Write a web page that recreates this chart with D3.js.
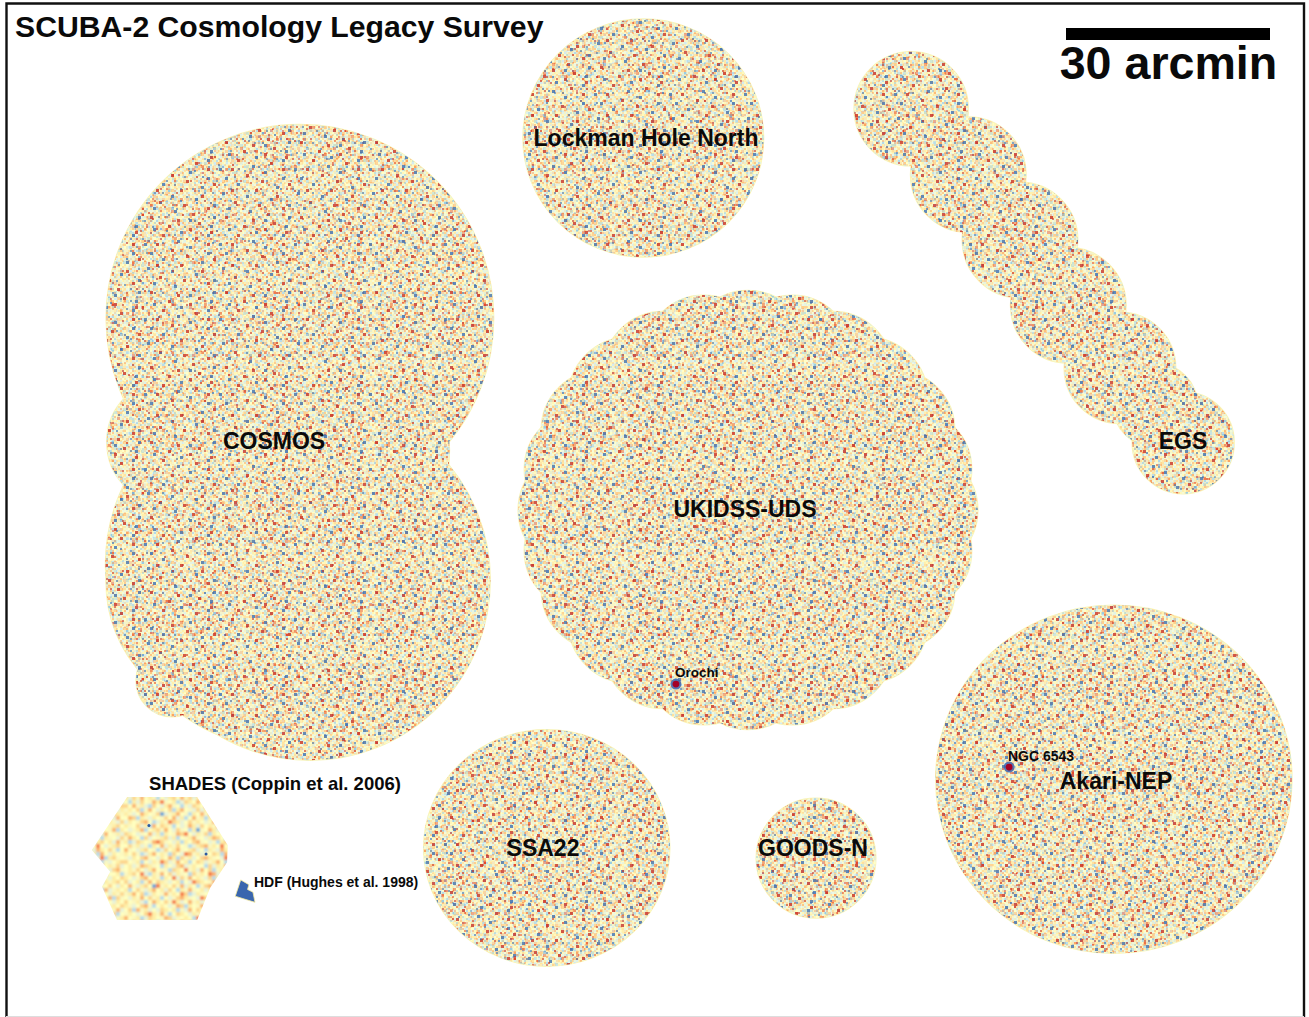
<!DOCTYPE html>
<html><head><meta charset="utf-8">
<script src="https://cdn.jsdelivr.net/npm/d3@7"></script>
<style>html,body{margin:0;padding:0;background:#fff}svg{display:block}text{font-family:"Liberation Sans",Arial,sans-serif;font-weight:700;fill:#0a0a0a}</style>
</head><body><div id="chart"></div>
<script>
// Footprints: [centre x, centre y, radius x, radius y] in arcmin on the map.
const lockman=[[94.6,20.3,17.7,17.5]];
const goodsN=[[120,126.2,8.8,8.8]];
const ssa22=[[80.4,124.7,18.1,17.4]];
const akariNep=[[163.8,114.6,26.2,25.6]];
const cosmos=[[44.1,46.8,28.5,28.5],[42.6,83.1,27.1,27.1],[45.6,85.3,26.5,26.5],[35.3,85.7,19.7,19.7],[25,65,9.3,9.3],[25.3,100.1,5.3,5.3],[44.1,66.2,22,22]];
const egs=[[134,16,8.4,8.4],[142.4,25.7,8.5,8.5],[150,35.3,8.5,8.5],[157.1,44.9,8.5,8.5],[164.7,54.1,8.2,8.2],[169.9,59.6,6.2,6.2],[174,65.1,7.5,7.5]];
const udsCore=[[110,75,25,23.5]];
const udsLobes=[[135,75],[134.1,81],[131.6,86.8],[127.6,91.6],[122.5,95.4],[116.5,97.8],[110,98.5],[103.5,97.8],[97.5,95.4],[92.4,91.6],[88.4,86.8],[85.9,81],[85,75],[85.9,69],[88.4,63.2],[92.4,58.4],[97.5,54.6],[103.5,52.2],[110,51.5],[116.5,52.2],[122.5,54.6],[127.6,58.4],[131.6,63.2],[134.1,69]];
const udsLobeRadius=[8.8];
const shadesOutline=[[18.7,117.2],[29,117.2],[33.5,124.3],[33.4,126.8],[30.9,130.6],[29,135.3],[17.2,135.3],[15,130.4],[16.2,128.2],[13.5,125]];
const shadesSpots=[[30.3,125.6],[21.9,121.4]];
const hdfOutline=[[35.4,129.4],[36.6,130.1],[36.4,130.8],[37.2,131.2],[37.5,132.7],[34.6,131.8]];
const brightSources=[[148.4,112.8],[99.4,100.6]];
const scaleBarArcmin=[30];
// Labels
const titleText=["SCUBA-2 Cosmology Legacy Survey"];
const scaleText=["30 arcmin"];
const fieldLabels=["Lockman Hole North","COSMOS","EGS","UKIDSS-UDS","SSA22","GOODS-N","Akari-NEP","SHADES (Coppin et al. 2006)"];
const smallLabels=["HDF (Hughes et al. 1998)","NGC 6543","Orochi"];
// Hand-typed colour-class tile approximating the map noise (0 red ... 4 pale yellow ... 8 blue)
const noiseRows=[
"4352463145572340536142753346215",
"5324067351426354725340163524437",
"3465214357340625143562734156342",
"2643751423564374602345146735324",
"4156324805342516347521630542463",
"3742563143624735154363425716534",
"5314276345153402763544231646352",
"4635142537465213546027345341725",
"2453674134250364153642517354634",
"3564215743465127345136243805342",
"4271536462343756142453657324516",
"5346420351574234635271345463274",
"1453762345126543470352164534653",
"3625143574632415263547324162345",
"4736245130543762341546235473516",
"2415367246315475623408153645342",
"5342751463427314562635341725463",
"3564134528653145734152463046235",
"4127356345241637415373546523614",
"6345214763502364253465127343562",
"3542637142357465136243516745324",
"4653174325146254738541362345173",
"2346541637345120463527345614536",
"5134726453263745315463124735462",
"3762345102546373421546573243615",
"4253657341635245763215340465324",
"1546324576243154326473561342574",
"3425763143572460153654237146345",
"5634215463413725364213546073254",
"2453746350265143742365314756432",
"4365123547346216534472635143526"];
const speckRows=[
"......0.............8....",
".8...........0...........",
"..........8.........0....",
"....0..............8.....",
"...............0.........",
".........8...............",
"..0................0...8.",
".............8...........",
".......0.................",
"8..................8.....",
"............0............",
"....8................0...",
".................8.......",
"..0.......0..............",
"........................8",
".......8.........0.......",
"...............8.........",
"...0.....................",
"...........0.........8...",
".8.................0.....",
"........8................",
"..............0..........",
"0....................8...",
".........0...8...........",
"................0........"];
const noiseClasses=["0","1","2","3","4","5","6","7","8"];
const noiseColors=["#e2492f","#fba765","#fed492","#fff0ad","#ffffc8","#ecf7e6","#d3ebf0","#9accE3","#5f93c6"];
const paleColors=["#f57d4a","#fbb56f","#fdd68e","#feeea6","#ffffc0","#fbf8c0","#e8f3d8","#b7dcea","#6ba6d6"];
const speckColors=["#c9302a","#3f6fb0"];

const W=1309,H=1017;
const x=d3.scaleLinear().domain([0,192.5]).range([0,W]);
const y=d3.scaleLinear().domain([0,149.56]).range([0,H]);
const noiseColor=d3.scaleOrdinal(noiseClasses,noiseColors);
const paleColor=d3.scaleOrdinal(noiseClasses,paleColors);

const svg=d3.select("#chart").append("svg").attr("width",W).attr("height",H);
const defs=svg.append("defs");
function tile(id,rows,color,size,transform){
  const p=defs.append("pattern").attr("id",id).attr("patternUnits","userSpaceOnUse")
    .attr("width",rows[0].length*size).attr("height",rows.length*size);
  if(transform){p.attr("patternTransform",transform);}
  rows.forEach((r,j)=>{for(let i=0;i<r.length;i++){if(r[i]==="."){continue;}
    p.append("rect").attr("x",i*size).attr("y",j*size).attr("width",size).attr("height",size).attr("fill",color(r[i]));}});
}
const speckColor=d=>d==="0"?speckColors[0]:speckColors[1];
tile("noise",noiseRows,noiseColor,2);
tile("noise2",noiseRows,noiseColor,3,"rotate(90)");
tile("speck",speckRows,speckColor,3);
tile("speck2",speckRows,speckColor,2,"rotate(90)");
tile("pale",noiseRows,paleColor,4);
defs.append("filter").attr("id","soft").append("feGaussianBlur").attr("stdDeviation",0.5);
defs.append("filter").attr("id","soft2").append("feGaussianBlur").attr("stdDeviation",0.7);
defs.append("filter").attr("id","softer").append("feGaussianBlur").attr("stdDeviation",1.3);

const fields=[
  ["cosmos",cosmos],["lockman",lockman],["egs",egs],
  ["uds",udsCore.concat(udsLobes.map(d=>[d[0],d[1],udsLobeRadius[0],udsLobeRadius[0]]))],
  ["akari",akariNep],["ssa22",ssa22],["goods",goodsN]];
const addEllipses=(sel,data)=>sel.selectAll("ellipse").data(data).join("ellipse")
  .attr("cx",d=>x(d[0])).attr("cy",d=>y(d[1])).attr("rx",d=>x(d[2])).attr("ry",d=>x(d[3]));
fields.forEach(([id,parts])=>{
  addEllipses(defs.append("clipPath").attr("id","clip-"+id),parts);
  addEllipses(svg.append("g").attr("fill","#f8f4b8").attr("stroke","#f8f4b8").attr("stroke-width",1.4),parts);
  const g=svg.append("g").attr("clip-path",`url(#clip-${id})`);
  const layer=(fill,op,f)=>g.append("rect").attr("width",W).attr("height",H).attr("fill",`url(#${fill})`).attr("filter",`url(#${f})`).attr("opacity",op);
  layer("noise",1,"soft");layer("noise2",0.45,"soft");layer("speck",0.8,"soft2");layer("speck2",0.6,"soft2");
});
// SHADES and HDF
const poly=d=>d.map(p=>[x(p[0]),y(p[1])].join(",")).join(" ");
defs.append("clipPath").attr("id","clip-shades").append("polygon").attr("points",poly(shadesOutline));
const sg=svg.append("g").attr("clip-path","url(#clip-shades)");
sg.append("rect").attr("width",W).attr("height",H).attr("fill","url(#pale)").attr("filter","url(#softer)");
sg.selectAll("circle").data(shadesSpots).join("circle").attr("cx",d=>x(d[0])).attr("cy",d=>y(d[1])).attr("r",1.5).attr("fill","#2c5aa0");
svg.append("polygon").attr("points",poly(hdfOutline)).attr("fill","#3a66ae").attr("stroke","#f3e9a0").attr("stroke-width",0.8);
// Bright sources
svg.selectAll("circle.halo").data(brightSources).join("circle").attr("class","halo")
  .attr("cx",d=>x(d[0])).attr("cy",d=>y(d[1])).attr("r",5.5).attr("fill","#3a5fae").attr("opacity",0.85);
svg.selectAll("circle.core").data(brightSources).join("circle").attr("class","core")
  .attr("cx",d=>x(d[0])).attr("cy",d=>y(d[1])).attr("r",3.4).attr("fill","#a50026");
// Scale bar
svg.append("rect").attr("x",1066).attr("y",28).attr("width",x(scaleBarArcmin[0])-x(0)).attr("height",12).attr("fill","#000");
// Text
const txt=(s,px,py,size,anchor)=>svg.append("text").text(s).attr("x",px).attr("y",py).attr("font-size",size).attr("text-anchor",anchor||"middle");
txt(titleText[0],15,37,30.2,"start");
txt(scaleText[0],1168.5,79,46.6);
const lp=[[646,146,23],[274,449,23],[1183,449,23],[745,517,23],[543,856,23],[813,856,23],[1116,789,23],[275,790,18.5]];
fieldLabels.forEach((s,i)=>txt(s,lp[i][0],lp[i][1],lp[i][2]));
txt(smallLabels[0],254,887,14,"start");
txt(smallLabels[1],1008,761,14,"start");
txt(smallLabels[2],675,677,13.5,"start");
// Frame
svg.append("path").attr("d","M6.5,1018V3.5H1304V1018").attr("fill","none").attr("stroke","#111").attr("stroke-width",2.4);
svg.append("line").attr("x1",6).attr("x2",1304).attr("y1",1016.5).attr("y2",1016.5).attr("stroke","#ddd").attr("stroke-width",1);
</script></body></html>
